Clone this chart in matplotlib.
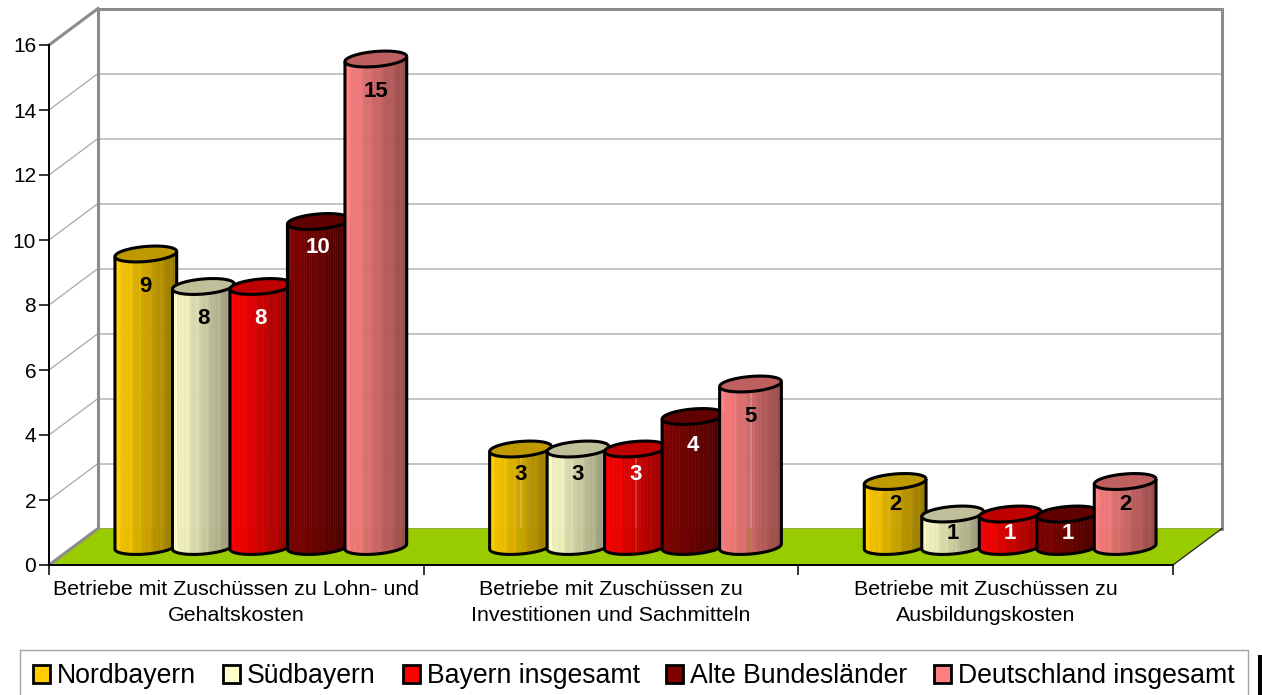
import matplotlib
matplotlib.use('Agg')
import matplotlib.pyplot as plt
import numpy as np
from matplotlib.colors import to_rgb
from matplotlib.patches import Patch, PathPatch, Polygon, Rectangle
from matplotlib.path import Path
from matplotlib.transforms import Affine2D, IdentityTransform

categories = ['Betriebe mit Zuschüssen zu Lohn- und\nGehaltskosten',
              'Betriebe mit Zuschüssen zu\nInvestitionen und Sachmitteln',
              'Betriebe mit Zuschüssen zu\nAusbildungskosten']
nordbayern = [9, 3, 2]
suedbayern = [8, 3, 1]
bayern = [8, 3, 1]
alte_laender = [10, 4, 1]
deutschland = [15, 5, 2]
series_names = ['Nordbayern', 'Südbayern', 'Bayern insgesamt', 'Alte Bundesländer', 'Deutschland insgesamt']
series_values = [nordbayern, suedbayern, bayern, alte_laender, deutschland]
series_colors = ['#ffcc00', '#ffffcc', '#ff0000', '#800000', '#ff8080']
label_colors = ['black', 'black', 'white', 'white', 'black']
y_ticks = list(range(0, 17, 2))

W, H = 1262, 695
plt.rcParams['font.family'] = ['Liberation Sans', 'DejaVu Sans']
fig = plt.figure(figsize=(W / 100, H / 100), dpi=100)
ax = fig.add_axes([49 / W, (H - 565) / H, 1124 / W, 520 / H])
ax.set_xlim(-0.5, 2.5)
ax.set_ylim(0, 16)
ax.patch.set_visible(False)

# fake 3D: back wall and bars are the data axes shifted by a few pixels
raw = IdentityTransform()
back = ax.transData + Affine2D().translate(49, 36.5)
mid = ax.transData + Affine2D().translate(24.5, 18.5)
px_per_x = ax.transData.transform((1, 0))[0] - ax.transData.transform((0, 0))[0]
GRAY = '#8c8c8c'


def corner(x, y, tr=None):
    return (tr or ax.transData).transform((x, y))


# floor
floor = [corner(-0.5, 0), corner(2.5, 0), corner(2.5, 0, back), corner(-0.5, 0, back)]
ax.add_patch(Polygon(floor, closed=True, fc='#99cc00', ec='none', transform=raw, zorder=1, clip_on=False))
ax.plot([floor[1][0], floor[2][0]], [floor[1][1], floor[2][1]], color='#222222', lw=0.9, transform=raw, zorder=1.2, clip_on=False)
ax.plot([floor[0][0], floor[3][0]], [floor[0][1], floor[3][1]], color=GRAY, lw=2.2, transform=raw, zorder=1.2, clip_on=False)

# back wall
ax.hlines(y_ticks[1:-1], -0.5, 2.5, colors='#b4b4b4', lw=1.1, transform=back, zorder=0.8, clip_on=False)
for t in y_ticks[1:-1]:
    a, b = corner(-0.5, t), corner(-0.5, t, back)
    ax.plot([a[0], b[0]], [a[1], b[1]], color='#a8a8a8', lw=0.9, transform=raw, zorder=0.8, clip_on=False)
a, b = corner(-0.5, 16), corner(-0.5, 16, back)
ax.plot([a[0], b[0]], [a[1], b[1]], color=GRAY, lw=2.2, transform=raw, zorder=0.9, clip_on=False)
ax.plot([-0.5, -0.5, 2.5, 2.5, -0.5], [0, 16, 16, 0, 0], color=GRAY, lw=2.2, transform=back, zorder=0.9, clip_on=False, solid_joinstyle='miter')

# cylinders
bar_step = 57.5 / px_per_x
RX, RY = 31, 7.5
TILT = np.radians(5)
N_SLICES = 26
stripes = [1, 1.04, 1, 0.98, 1, 1, 1.05, 1, 0.98, 1, 1.04, 1, 1]


def ring(cx, cy, t):
    return np.column_stack([cx + RX * np.cos(t) * np.cos(TILT) - RY * np.sin(t) * np.sin(TILT),
                            cy + RX * np.cos(t) * np.sin(TILT) + RY * np.sin(t) * np.cos(TILT)])


z = 3
for s, (name, values, col) in enumerate(zip(series_names, series_values, series_colors)):
    rgb = np.array(to_rgb(col))
    for g, v in enumerate(values):
        xc = g + (s - 2) * bar_step
        cx0, cy0 = corner(xc, 0, mid)
        cx1, cy1 = corner(xc, v, mid)
        arc = ring(cx0, cy0, np.linspace(np.pi, 2 * np.pi, 40))
        left_top = ring(cx1, cy1, np.array([np.pi]))
        right_top = ring(cx1, cy1, np.array([0.0]))
        body = np.vstack([left_top, arc, right_top])
        clip = Path(np.vstack([body, left_top]), closed=True)

        w = 2 * RX / px_per_x / N_SLICES
        xs = xc - RX / px_per_x + (np.arange(N_SLICES) + 0.5) * w
        for i, x in enumerate(xs):
            shade = 1.0 - 0.42 * i / (N_SLICES - 1) if i > 2 else 1.0 - 0.03 * i
            c = np.clip(rgb * shade * stripes[i % len(stripes)], 0, 1)
            b = ax.bar(x, v + 0.9, w, bottom=-0.5, color=c, ec=c, lw=0.4, transform=mid, zorder=z)
            b[0].set_clip_path(clip, raw)
        ax.add_patch(PathPatch(Path(body), fc='none', ec='black', lw=2.2, transform=raw, zorder=z + 0.1, clip_on=False))
        lid = Path(ring(cx1, cy1, np.linspace(0, 2 * np.pi, 80)), closed=False)
        ax.add_patch(PathPatch(lid, fc=rgb * 0.75, ec='black', lw=2.2, transform=raw, zorder=z + 0.2, clip_on=False))
        # label sits about one unit under the lid, less on the short bars and on the 10
        drop = 0.8 if v == 10 else min(1.0, 0.6 + 0.1 * (v - 1))
        ax.text(xc, v - drop, str(v), color=label_colors[s], fontsize=16, fontweight='bold',
                ha='center', va='center', transform=mid, zorder=20)
        z += 1

# axes
for side in ('top', 'right'):
    ax.spines[side].set_visible(False)
for side in ('left', 'bottom'):
    ax.spines[side].set_linewidth(1.4)
    ax.spines[side].set_zorder(2)
ax.set_yticks(y_ticks)
ax.tick_params(axis='y', labelsize=15, length=7.2, width=1.1, pad=2)
ax.set_xticks([-0.5, 0.5, 1.5, 2.5])
ax.set_xticklabels([])
ax.set_xticks([0, 1, 2], categories, minor=True)
ax.tick_params(axis='x', which='major', length=7, width=1.1)
ax.tick_params(axis='x', which='minor', length=0, labelsize=15.4, pad=11)
for lab in ax.get_xticklabels(minor=True):
    lab.set_linespacing(1.42)

# legend, runs off the lower edge in the original
handles = [Patch(fc=c, ec='black', lw=2, label=n) for n, c in zip(series_names, series_colors)]
leg = fig.legend(handles=handles, loc='upper left', bbox_to_anchor=(20 / W, (H - 650) / H), ncol=5,
                 fontsize=19.2, frameon=True, fancybox=False, edgecolor='#8c8c8c', borderaxespad=0,
                 handlelength=0.64, handleheight=0.64, handletextpad=0.26, columnspacing=1.0,
                 borderpad=0.5)
leg.get_frame().set_linewidth(1.0)
fig.add_artist(Rectangle((1258 / W, 0), 4 / W, 40 / H, fc='black', ec='none', transform=fig.transFigure))

fig.savefig('out.png', dpi=100)
